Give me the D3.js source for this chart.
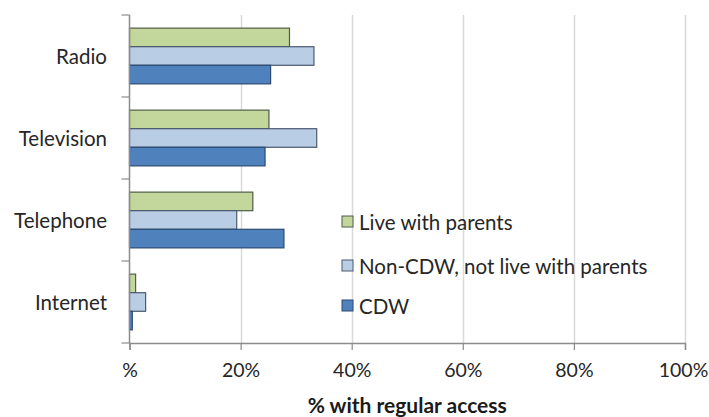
<!DOCTYPE html>
<html>
<head>
<meta charset="utf-8">
<script src="https://cdn.jsdelivr.net/npm/d3@7"></script>
<style>
  html, body { margin: 0; padding: 0; background: #fff; }
  svg { display: block; font-family: Lato, "Open Sans", sans-serif; }
</style>
</head>
<body>
<svg id="chart" width="709" height="417"></svg>
<script>
// Media access by group (% with regular access)
const categories = ["Radio", "Television", "Telephone", "Internet"];
const seriesNames = ["Live with parents", "Non-CDW, not live with parents", "CDW"];
const liveWithParents = [28.8, 25.1, 22.2, 1.1];
const nonCdwNotWithParents = [33.2, 33.7, 19.3, 2.9];
const cdw = [25.4, 24.4, 27.8, 0.5];
const xTicks = [0, 20, 40, 60, 80, 100];
const xTickLabels = ["%", "20%", "40%", "60%", "80%", "100%"];
const xTitle = "% with regular access";

const seriesValues = [liveWithParents, nonCdwNotWithParents, cdw];
const fills = ["#c3d69b", "#b9cde5", "#4f81bd"];
const strokes = ["#4f5d4a", "#4a5a70", "#2c4a72"];

const svg = d3.select("#chart");
const plotLeft = 129.5, plotRight = 685, plotTop = 15, plotBottom = 343;
const labelSize = 20.5;

const x = d3.scaleLinear().domain([0, 100]).range([plotLeft, plotRight]);
const y = d3.scaleBand().domain(categories).range([plotTop, plotBottom])
  .paddingInner(0.32).paddingOuter(0.16);
const ySub = d3.scaleBand().domain(d3.range(seriesNames.length)).range([0, y.bandwidth()]);

// vertical gridlines
svg.append("g").selectAll("line").data(xTicks.slice(1)).join("line")
  .attr("x1", d => Math.round(x(d)) + 0.5).attr("x2", d => Math.round(x(d)) + 0.5)
  .attr("y1", plotTop).attr("y2", plotBottom)
  .attr("stroke", "#d9d9d9").attr("stroke-width", 1.5);

// bars
const rows = categories.flatMap((c, i) => seriesValues.map((vals, s) => ({ c, s, v: vals[i] })));
svg.append("g").selectAll("rect").data(rows).join("rect")
  .attr("x", x(0))
  .attr("y", d => y(d.c) + ySub(d.s))
  .attr("width", d => x(d.v) - x(0))
  .attr("height", ySub.bandwidth())
  .attr("fill", d => fills[d.s])
  .attr("stroke", d => strokes[d.s])
  .attr("stroke-width", 1.2);

// x axis
const xAxis = svg.append("g").attr("transform", `translate(0,${plotBottom})`)
  .call(d3.axisBottom(x).tickValues(xTicks).tickFormat((d, i) => xTickLabels[i]).tickSize(7).tickPadding(13));
xAxis.select(".domain").attr("stroke", "#8c8c8c").attr("stroke-width", 1.5);
xAxis.selectAll(".tick line").attr("stroke", "#8c8c8c").attr("stroke-width", 1.2);
xAxis.selectAll("text").attr("font-size", 19.5).attr("fill", "#262626").attr("font-family", "Lato, sans-serif");
// keep the last tick label inside the frame
xAxis.selectAll(".tick text").filter(d => d === 100).attr("dx", -2);

// y axis with ticks at category boundaries
svg.append("line").attr("x1", plotLeft).attr("x2", plotLeft).attr("y1", plotTop).attr("y2", plotBottom)
  .attr("stroke", "#8c8c8c").attr("stroke-width", 1.5);
const bounds = categories.map(c => y(c) - y.step() * y.paddingInner() / 2).concat([plotBottom]);
bounds[0] = plotTop;
svg.append("g").selectAll("line").data(bounds).join("line")
  .attr("x1", plotLeft - 8).attr("x2", plotLeft).attr("y1", d => d).attr("y2", d => d)
  .attr("stroke", "#8c8c8c").attr("stroke-width", 1.2);
svg.append("g").selectAll("text").data(categories).join("text")
  .attr("x", 107).attr("y", d => y(d) + y.bandwidth() / 2)
  .attr("text-anchor", "end").attr("dominant-baseline", "central")
  .attr("font-size", labelSize).attr("fill", "#262626")
  .text(d => d);

// axis title
svg.append("text").attr("x", (plotLeft + plotRight) / 2).attr("y", 413)
  .attr("text-anchor", "middle").attr("font-size", 21).attr("font-weight", "bold")
  .attr("fill", "#1a1a1a").text(xTitle);

// legend
const legend = svg.append("g");
const legendY = [222, 266, 306];
seriesNames.forEach((name, i) => {
  legend.append("rect").attr("x", 342).attr("y", legendY[i] - 6).attr("width", 11).attr("height", 11)
    .attr("fill", fills[i]).attr("stroke", strokes[i]).attr("stroke-width", 1);
  legend.append("text").attr("x", 359).attr("y", legendY[i])
    .attr("dominant-baseline", "central").attr("font-size", labelSize).attr("fill", "#262626")
    .text(name);
});
</script>
</body>
</html>
